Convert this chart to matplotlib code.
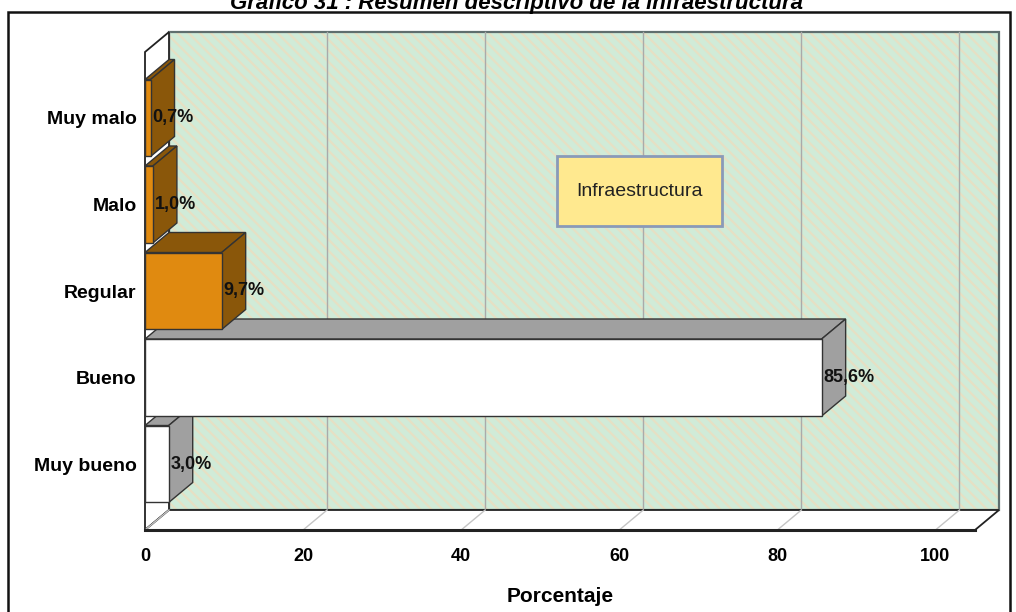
import matplotlib.pyplot as plt
from matplotlib.patches import Polygon, Rectangle

categorias = ["Muy bueno", "Bueno", "Regular", "Malo", "Muy malo"]
porcentajes = [3.0, 85.6, 9.7, 1.0, 0.7]
etiquetas = ["3,0%", "85,6%", "9,7%", "1,0%", "0,7%"]
ticks_x = [0, 20, 40, 60, 80, 100]

frente = ["#ffffff", "#ffffff", "#e08a10", "#e08a10", "#e08a10"]
lados = ["#a0a0a0", "#a0a0a0", "#8a570a", "#8a570a", "#8a570a"]

plt.rcParams['font.family'] = ['Liberation Sans', 'DejaVu Sans']
plt.rcParams['hatch.color'] = "#e6e0c4"
plt.rcParams['hatch.linewidth'] = 1.6

W, H = 1016, 612
fig = plt.figure(figsize=(W / 100, H / 100), dpi=100)
ax = fig.add_axes([145 / W, 82 / H, 830 / W, 478 / H])

xmax = 105
ymin, ymax = -0.763, 4.763
ax.set_xlim(0, xmax)
ax.set_ylim(ymin, ymax)
# 3d depth offset in data units (about 24px right, 20px up)
dx = 24 / (830 / xmax)
dy = 20 / (478 / (ymax - ymin))
alto = 0.89

# back wall, hatched green
esquinas = [(dx, ymin + dy), (xmax + dx, ymin + dy), (xmax + dx, ymax + dy), (dx, ymax + dy)]
ax.add_patch(Polygon(esquinas, closed=True, facecolor="#d0ebd8", edgecolor="#e6e0c4",
                     hatch="\\\\\\", lw=0.5, clip_on=False, zorder=1))
ax.add_patch(Polygon(esquinas, closed=True, fill=False, edgecolor="#5f6e6e", lw=1.6,
                     clip_on=False, zorder=2))

for t in ticks_x:
    ax.plot([t + dx, t + dx], [ymin + dy, ymax + dy], color="#aaaaaa", lw=1, clip_on=False, zorder=2)

# left wall and floor
ax.add_patch(Polygon([(0, ymin), (dx, ymin + dy), (dx, ymax + dy), (0, ymax)], closed=True,
                     facecolor="white", edgecolor="#222222", lw=1.3, clip_on=False, zorder=2))
ax.add_patch(Polygon([(0, ymin), (xmax, ymin), (xmax + dx, ymin + dy), (dx, ymin + dy)], closed=True,
                     facecolor="white", edgecolor="#222222", lw=1.3, clip_on=False, zorder=2))
for t in ticks_x:
    ax.plot([t, t + dx], [ymin, ymin + dy], color="#c4c4c4", lw=1, clip_on=False, zorder=2)
ax.plot([0, xmax], [ymin, ymin], color="#222222", lw=2.2, clip_on=False, zorder=3)

# bars, bottom first so upper ones overlap the top faces below
for i, v in enumerate(porcentajes):
    y0, y1 = i - alto / 2, i + alto / 2
    z = 4 + i
    ax.add_patch(Polygon([(0, y1), (v, y1), (v + dx, y1 + dy), (dx, y1 + dy)], closed=True,
                         facecolor=lados[i], edgecolor="#333333", lw=1, clip_on=False, zorder=z))
    ax.add_patch(Polygon([(v, y0), (v + dx, y0 + dy), (v + dx, y1 + dy), (v, y1)], closed=True,
                         facecolor=lados[i], edgecolor="#333333", lw=1, clip_on=False, zorder=z))
    ax.add_patch(Rectangle((0, y0), v, alto, facecolor=frente[i], edgecolor="#333333", lw=1,
                           clip_on=False, zorder=z))
    ax.text(v + 0.25, i, etiquetas[i], ha="left", va="center", fontsize=13, fontweight="bold",
            color="#111111", zorder=20)

for s in ax.spines.values():
    s.set_visible(False)
ax.set_facecolor("none")
ax.set_xticks(ticks_x)
ax.set_xticklabels([str(t) for t in ticks_x], fontsize=13, fontweight="bold")
ax.set_yticks(range(len(categorias)))
ax.set_yticklabels(categorias, fontsize=14, fontweight="bold")
ax.tick_params(axis="x", length=0, pad=13)
ax.tick_params(axis="y", length=0, pad=6)
ax.set_xlabel("Porcentaje", fontsize=15, fontweight="bold", labelpad=16)

# legend box
ax.add_patch(Rectangle(((557 - 145) / 830, (530 - 226) / 478), 165 / 830, 70 / 478,
                       transform=ax.transAxes, facecolor="#ffe98f", edgecolor="#8a9ab8", lw=2,
                       zorder=25, clip_on=False))
ax.text((640 - 145) / 830, (530 - 191) / 478, "Infraestructura", transform=ax.transAxes,
        ha="center", va="center", fontsize=14, color="#222222", zorder=26)

fig.patches.append(Rectangle((8 / W, -0.1), 1002 / W, 1.1 - 12 / H, transform=fig.transFigure,
                             fill=False, edgecolor="#111111", lw=1.8))
fig.text(516 / W, 1 - 9 / H, "Gráfico 31 : Resumen descriptivo de la infraestructura",
         ha="center", va="baseline", fontsize=16, fontweight="bold", fontstyle="italic")

fig.savefig("out.png", dpi=100)
